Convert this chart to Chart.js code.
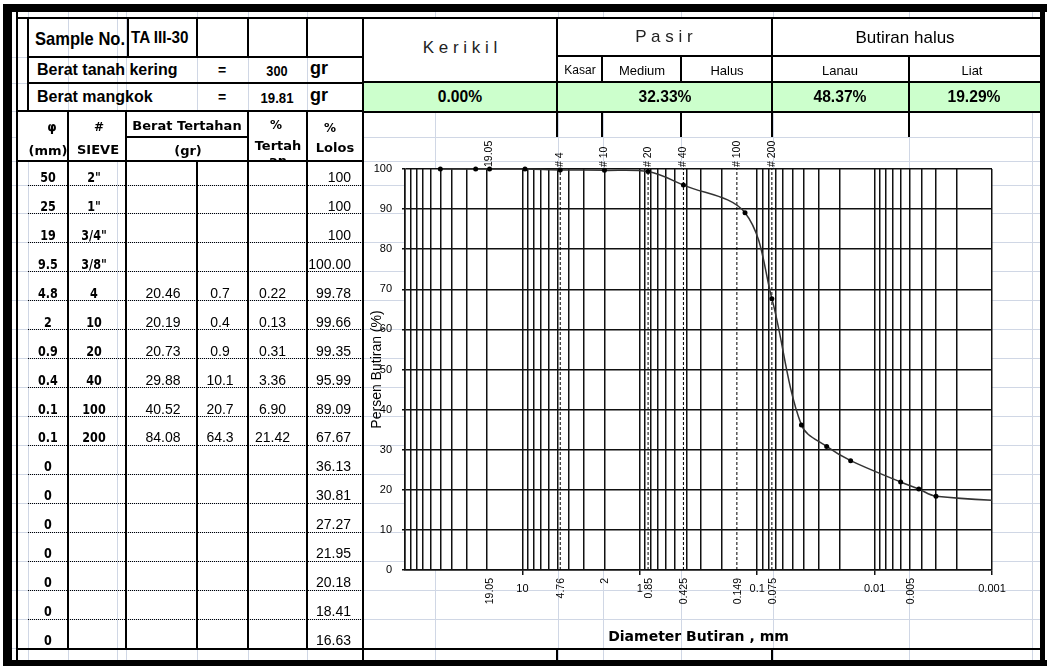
<!DOCTYPE html>
<html lang="id">
<head>
<meta charset="UTF-8">
<title>Analisa Saringan - TA III-30</title>
<script src="https://cdn.jsdelivr.net/npm/chart.js"></script>
<style>
  html, body { margin: 0; padding: 0; background: #fff; }
  body { width: 1047px; height: 666px; position: relative; overflow: hidden; font-family: "Liberation Sans", Arial, sans-serif; }
  #sheet div { position: absolute; }
  #sheet .t { white-space: nowrap; line-height: 1; z-index: 5; color: #000; }
  #chart { position: absolute; left: 363px; top: 137px; z-index: 2; }
</style>
</head>
<body>
<div id="sheet"></div>
<canvas id="chart" width="677" height="513"></canvas>
<script>
// --- sheet values ---
const sampleNo = 'TA III-30';
const dryWeight = '300';
const bowlWeight = '19.81';
const sieveMm = ['50','25','19','9.5','4.8','2','0.9','0.4','0.1','0.1','0','0','0','0','0','0','0'];
const sieveNo = ['2"','1"','3/4"','3/8"','4','10','20','40','100','200','','','','','','',''];
const retainedA = ['','','','','20.46','20.19','20.73','29.88','40.52','84.08','','','','','','',''];
const retainedB = ['','','','','0.7','0.4','0.9','10.1','20.7','64.3','','','','','','',''];
const pctRetained = ['','','','','0.22','0.13','0.31','3.36','6.90','21.42','','','','','','',''];
const pctPassing = ['100','100','100','100.00','99.78','99.66','99.35','95.99','89.09','67.67','36.13','30.81','27.27','21.95','20.18','18.41','16.63'];
const fractions = ['0.00%', '32.33%', '48.37%', '19.29%'];

// --- chart values (diameter mm, percent finer) ---
const grainSize = [50, 25, 19.05, 9.5, 4.76, 2, 0.85, 0.425, 0.127, 0.075, 0.042, 0.0256, 0.016, 0.006, 0.0042, 0.003, 0.0003];
const percentFiner = [100, 100, 100, 100, 99.78, 99.66, 99.35, 95.99, 89.09, 67.67, 36.13, 30.81, 27.27, 21.95, 20.18, 18.41, 16.63];
const sieveLines = [4.76, 0.85, 0.425, 0.149, 0.075];
const topMarks = [19.05, 4.76, 2, 0.85, 0.425, 0.149, 0.075];
const topLabels = ['19.05', '# 4', '# 10', '# 20', '# 40', '# 100', '# 200'];
const bottomMarks = [19.05, 4.76, 2, 0.85, 0.425, 0.149, 0.075, 0.005];
const bottomLabels = ['19.05', '4.76', '2', '0.85', '0.425', '0.149', '0.075', '0.005'];
const decadeTicks = [10, 1, 0.1, 0.01, 0.001];
const decadeLabels = ['10', '1', '0.1', '0.01', '0.001'];

// log grid: 1..9 x 10^e
const gridValues = [];
for (let e = -3; e <= 1; e++) {
  for (let m = 1; m <= 9; m++) gridValues.push(m * Math.pow(10, e));
}
gridValues.push(100);

const sheet = document.getElementById('sheet');

function box(x, y, w, h, color, z) {
  const el = document.createElement('div');
  el.style.left = x + 'px';
  el.style.top = y + 'px';
  el.style.width = w + 'px';
  el.style.height = h + 'px';
  el.style.background = color;
  el.style.zIndex = z;
  sheet.appendChild(el);
  return el;
}
function hl(x1, x2, y, w = 1.5, color = '#000', z = 3) { return box(x1, y - w / 2, x2 - x1, w, color, z); }
function vl(x, y1, y2, w = 1.5, color = '#000', z = 3) { return box(x - w / 2, y1, w, y2 - y1, color, z); }
function dotted(x1, x2, y) {
  const el = box(x1, y, x2 - x1, 0, 'transparent', 3);
  el.style.borderTop = '1px dotted #000';
}

function tx(x, y, s, o = {}) {
  if (!s) return;
  const el = document.createElement('div');
  el.className = 't';
  el.textContent = s;
  el.style.left = x + 'px';
  el.style.top = y + 'px';
  el.style.font = o.font || '14px "Liberation Sans", Arial, sans-serif';
  if (o.color) el.style.color = o.color;
  if (o.ls) el.style.letterSpacing = o.ls + 'px';
  const align = o.align || 'center';
  const dx = align === 'left' ? '0' : align === 'right' ? '-100%' : '-50%';
  el.style.transformOrigin = (align === 'left' ? 'left' : align === 'right' ? 'right' : 'center') + ' center';
  el.style.transform = 'translate(' + dx + ', -50%)' + (o.sx ? ' scaleX(' + o.sx + ')' : '');
  (o.parent || sheet).appendChild(el);
}

const ARB = '"Liberation Sans", Arial, sans-serif';
const DVB = 'bold 13px "DejaVu Sans", sans-serif';
const DVB14 = 'bold 14px "DejaVu Sans", sans-serif';

// row bottoms of the sieve table
const rowBottom = [];
for (let k = 0; k < 17; k++) rowBottom.push(185 + 28.94 * k);

// --- light spreadsheet grid ---
const gridCols = [28, 68, 117, 126, 197, 248, 307, 435, 558, 603, 681, 773, 909, 1032];
const gridRows = [57, 83, 111, 137, 161].concat(rowBottom);
gridCols.forEach(x => vl(x, 12, 660, 1, '#d0d7e5', 0));
gridRows.forEach(y => hl(12, 1040, y, 1, '#d0d7e5', 0));

// fills
box(363, 19, 677, 93, '#fff', 1);
box(363, 82, 677, 30, '#ccffcc', 1);
box(17, 111, 346, 50, '#fff', 1);

// --- outer frame ---
box(3, 4, 1044, 8, '#000', 4);
box(3, 4, 9, 662, '#000', 4);
box(3, 660, 1044, 6, '#000', 4);
box(1040, 4, 5, 662, '#000', 4);
vl(17, 12, 660, 2);
hl(17, 1040, 18, 2);
hl(17, 1040, 649, 2.5);

// --- left table lines ---
[28, 128, 197, 248, 307].forEach(x => vl(x, 18, 57));
vl(28, 18, 111);
hl(28, 363, 57);
hl(28, 363, 83);
hl(17, 363, 111, 2.5);
[68, 126, 248, 307].forEach(x => vl(x, 111, 649, 2.5));
vl(197, 161, 649, 2.5);
hl(126, 248, 137);
hl(17, 363, 161, 2.5);
for (let k = 0; k < 16; k++) dotted(28, 363, rowBottom[k] - 0.5);
vl(363, 18, 660, 2.5);

// --- right header lines ---
hl(557, 1040, 56);
hl(363, 1040, 82);
hl(363, 1040, 112, 2.5);
vl(557, 18, 137, 2);
vl(772, 18, 137, 2);
vl(602, 56, 82);
vl(681, 56, 82);
vl(909, 56, 137);
vl(602, 112, 137);
vl(681, 112, 137);
vl(557, 650, 660, 2.5);
vl(772, 650, 660, 2.5);

// --- left table texts ---
tx(35, 39, 'Sample No.', { font: 'bold 19px ' + ARB, align: 'left', sx: 0.87 });
tx(131, 38, sampleNo, { font: 'bold 16px ' + ARB, align: 'left', sx: 0.95 });
tx(37, 70, 'Berat tanah kering', { font: 'bold 16px ' + ARB, align: 'left' });
tx(222, 70, '=', { font: 'bold 14px ' + ARB });
tx(277, 70, dryWeight, { font: 'bold 15px ' + ARB, sx: 0.85 });
tx(310, 68, 'gr', { font: 'bold 18px ' + ARB, align: 'left' });
tx(37, 97, 'Berat mangkok', { font: 'bold 16px ' + ARB, align: 'left' });
tx(222, 97, '=', { font: 'bold 14px ' + ARB });
tx(277, 97, bowlWeight, { font: 'bold 15px ' + ARB, sx: 0.88 });
tx(310, 95, 'gr', { font: 'bold 18px ' + ARB, align: 'left' });

tx(52, 127, 'φ', { font: 'bold 12px "DejaVu Sans", sans-serif' });
tx(99, 127, '#', { font: 'bold 12px "DejaVu Sans", sans-serif' });
tx(187, 125, 'Berat Tertahan', { font: DVB });
tx(276, 125, '%', { font: 'bold 12px "DejaVu Sans", sans-serif' });
tx(278, 145, 'Tertah', { font: DVB });
const clip = box(249, 112, 57, 49, 'transparent', 5);
clip.style.overflow = 'hidden';
tx(29, 48, 'an', { font: DVB, parent: clip });
tx(330, 128, '%', { font: 'bold 12px "DejaVu Sans", sans-serif' });
tx(335, 147, 'Lolos', { font: DVB });
tx(48, 150, '(mm)', { font: DVB });
tx(98, 149, 'SIEVE', { font: DVB });
tx(188, 150, '(gr)', { font: DVB });

for (let k = 0; k < 17; k++) {
  const cy = rowBottom[k] - 8;
  tx(48, cy, sieveMm[k], { font: DVB14, sx: 0.8 });
  tx(94, cy, sieveNo[k], { font: DVB14, sx: 0.8 });
  tx(163, cy, retainedA[k]);
  tx(220, cy, retainedB[k]);
  tx(272.5, cy, pctRetained[k]);
  tx(351, cy, pctPassing[k], { align: 'right' });
}

// --- right header texts ---
tx(460, 48, 'K e r i k i l', { font: '17px ' + ARB, color: '#222' });
tx(664, 37, 'P a s i r', { font: '17px ' + ARB, color: '#222' });
tx(905, 38, 'Butiran halus', { font: '17px ' + ARB });
tx(580, 70, 'Kasar', { font: '12px ' + ARB });
tx(642, 70, 'Medium', { font: '13px ' + ARB });
tx(727, 70, 'Halus', { font: '13px ' + ARB });
tx(840, 70, 'Lanau', { font: '13px ' + ARB });
tx(972, 70, 'Liat', { font: '13px ' + ARB });
[460, 665, 840, 974].forEach((x, i) => tx(x, 97, fractions[i], { font: 'bold 17px ' + ARB, sx: 0.92 }));

// --- chart ---
Chart.defaults.color = '#000';
Chart.defaults.font.family = ARB;

const plotBackground = {
  id: 'plotBackground',
  beforeDraw(chart) {
    const { ctx, chartArea: a } = chart;
    ctx.save();
    ctx.fillStyle = '#fff';
    ctx.fillRect(a.left, a.top, a.width, a.height);
    ctx.restore();
  }
};

const sieveLabels = {
  id: 'sieveLabels',
  afterDraw(chart) {
    const { ctx, chartArea, scales: { x } } = chart;
    ctx.save();
    ctx.fillStyle = '#000';
    ctx.font = '10.5px ' + ARB;
    ctx.textBaseline = 'middle';
    topMarks.forEach((v, i) => {
      ctx.save();
      ctx.translate(x.getPixelForValue(v), chartArea.top - 2);
      ctx.rotate(-Math.PI / 2);
      ctx.textAlign = 'left';
      ctx.fillText(topLabels[i], 0, 0);
      ctx.restore();
    });
    bottomMarks.forEach((v, i) => {
      ctx.save();
      ctx.translate(x.getPixelForValue(v) + 1, chartArea.bottom + 8);
      ctx.rotate(-Math.PI / 2);
      ctx.textAlign = 'right';
      ctx.fillText(bottomLabels[i], 0, 0);
      ctx.restore();
    });
    ctx.restore();
  }
};

function isDecade(v) {
  return decadeTicks.findIndex(d => Math.abs(v - d) / d < 1e-6);
}

const datasets = [{
  data: grainSize.map((d, i) => ({ x: d, y: percentFiner[i] })),
  borderColor: '#333',
  borderWidth: 1.5,
  tension: 0.35,
  pointRadius: 2.5,
  pointBackgroundColor: '#000',
  pointBorderWidth: 0,
  clip: { left: 5, top: 5, right: 0, bottom: 5 }
}];
sieveLines.forEach(s => datasets.push({
  data: [{ x: s, y: 0 }, { x: s, y: 100 }],
  borderColor: '#000',
  borderWidth: 1,
  borderDash: [3, 2],
  pointRadius: 0,
  tension: 0
}));

new Chart(document.getElementById('chart'), {
  type: 'line',
  data: { datasets },
  options: {
    responsive: false,
    animation: false,
    layout: { padding: { top: 32, right: 48, left: 0, bottom: 0 } },
    plugins: { legend: { display: false }, tooltip: { enabled: false } },
    scales: {
      x: {
        type: 'logarithmic',
        reverse: true,
        min: 0.001,
        max: 100,
        afterBuildTicks: ax => { ax.ticks = gridValues.map(v => ({ value: v })); },
        afterFit: ax => { ax.height = 80; },
        grid: {
          color: '#111',
          lineWidth: 1.5,
          tickLength: 5,
          tickColor: c => (c.tick && isDecade(c.tick.value) >= 0) ? '#111' : 'rgba(0,0,0,0)'
        },
        border: { color: '#111', width: 1.5 },
        ticks: {
          autoSkip: false,
          maxRotation: 0,
          minRotation: 0,
          padding: 7,
          color: '#000',
          font: { size: 11 },
          callback: v => { const i = isDecade(v); return i >= 0 ? decadeLabels[i] : ''; }
        },
        title: {
          display: true,
          text: 'Diameter Butiran , mm',
          color: '#000',
          font: { family: '"DejaVu Sans", sans-serif', weight: 'bold', size: 14 },
          padding: { top: 0, bottom: 4 }
        }
      },
      y: {
        min: 0,
        max: 100,
        afterFit: ax => { ax.width = 42; },
        grid: { color: '#111', lineWidth: 1.5, tickLength: 3, tickColor: '#111' },
        border: { color: '#111', width: 1.5 },
        ticks: { stepSize: 10, padding: 10, color: '#000', font: { size: 11 } },
        title: {
          display: true,
          text: 'Persen Butiran (%)',
          color: '#000',
          font: { size: 14 },
          padding: { top: 6, bottom: 0 }
        }
      }
    }
  },
  plugins: [plotBackground, sieveLabels]
});
</script>
</body>
</html>
